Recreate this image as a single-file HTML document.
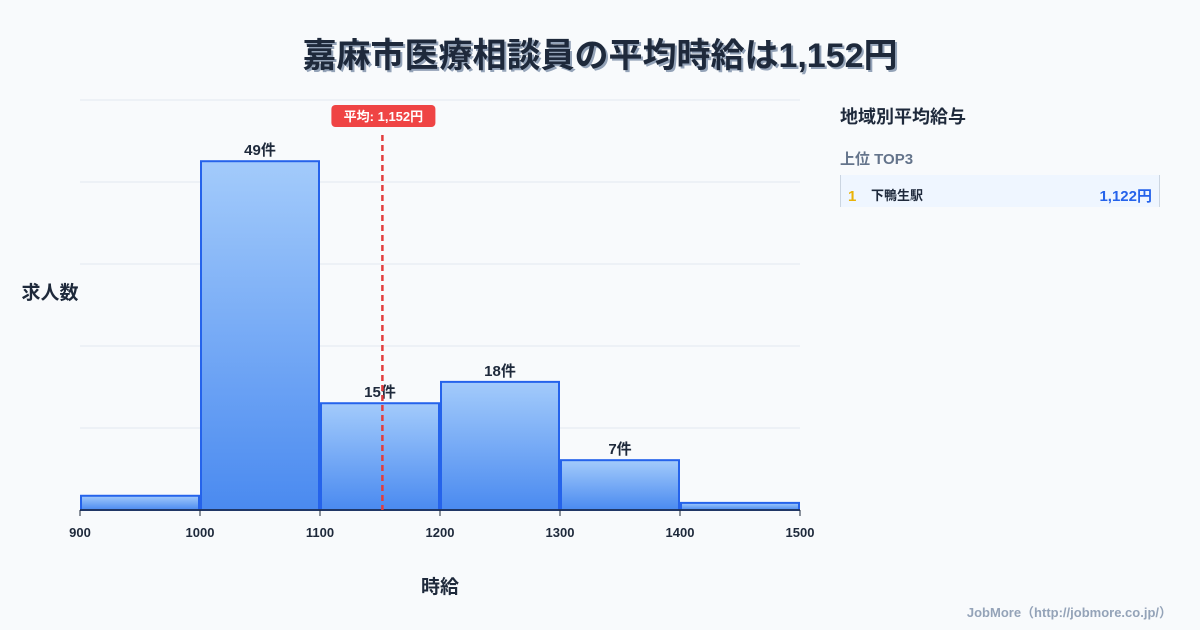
<!DOCTYPE html>
<html><head><meta charset="utf-8"><style>
body{margin:0;width:1200px;height:630px;background:#f8fafc;font-family:"Liberation Sans","Noto Sans CJK JP",sans-serif;overflow:hidden;position:relative}
.t{position:absolute;left:0;width:1200px;top:28px;text-align:center;font-size:34px;font-weight:bold;color:#1e293b;text-shadow:2px 2px 0 #94a3b8}
</style></head><body>
<div class="t">嘉麻市医療相談員の平均時給は1,152円</div>
<svg id="c" width="1200" height="630" style="position:absolute;left:0;top:0">
<defs><linearGradient id="g" x1="0" y1="0" x2="0" y2="1"><stop offset="0" stop-color="#a3cbfb"/><stop offset="1" stop-color="#4a8af0"/></linearGradient></defs>
<text x="50" y="299" font-size="19" font-weight="bold" fill="#1e293b" text-anchor="middle">求人数</text>
<text x="440" y="593" font-size="19" font-weight="bold" fill="#1e293b" text-anchor="middle">時給</text>
<text x="840" y="123" font-size="18" font-weight="bold" fill="#1e293b">地域別平均給与</text>
<text x="840" y="164" font-size="15" font-weight="bold" fill="#64748b">上位 TOP3</text>
<rect x="840" y="175" width="320" height="32" fill="#eff6ff"/>
<line x1="840.5" y1="175" x2="840.5" y2="207" stroke="#cbd5e1"/><line x1="1159.5" y1="175" x2="1159.5" y2="207" stroke="#cbd5e1"/>
<text x="848" y="201" font-size="15" font-weight="bold" fill="#eab308">1</text>
<text x="871" y="200" font-size="13" font-weight="bold" fill="#1e293b">下鴨生駅</text>
<text x="1152" y="201" font-size="15" font-weight="bold" fill="#2563eb" text-anchor="end">1,122円</text>
<text x="1172" y="617" font-size="13" font-weight="bold" fill="#94a3b8" text-anchor="end">JobMore（http://jobmore.co.jp/）</text>
</svg>
<script>
const binStarts=[900,1000,1100,1200,1300,1400];
const counts=[2,49,15,18,7,1];
const labelShown=[false,true,true,true,true,false];
const xTicks=[900,1000,1100,1200,1300,1400,1500];
const meanValue=1152;
const meanLabel="平均: 1,152円";
const L=80,R=800,T=100,B=510,xMin=900,xMax=1500,yMax=57.6;
const X=v=>L+(v-xMin)/(xMax-xMin)*(R-L);
const Y=v=>B-v/yMax*(B-T);
const s=document.getElementById('c'),NS="http://www.w3.org/2000/svg";
function mk(t,a,p){const e=document.createElementNS(NS,t);for(const k in a)e.setAttribute(k,a[k]);(p||s).appendChild(e);return e;}
for(let i=0;i<=5;i++){const g=mk('line',{x1:L,x2:R,y1:T+i*82,y2:T+i*82,stroke:'#e2e8f0'});

}
counts.forEach((c,i)=>{const x0=X(binStarts[i]),x1=X(binStarts[i]+100);
const r=mk('rect',{x:x0+1,y:Y(c),width:x1-x0-2,height:B-Y(c),fill:'url(#g)',stroke:'#2563eb','stroke-width':2});


if(labelShown[i]){const t=mk('text',{x:(x0+x1)/2,y:Y(c)-6,'text-anchor':'middle','font-size':15,'font-weight':'bold',fill:'#1e293b'});t.textContent=c+'件';

}});
mk('line',{x1:L,x2:R,y1:B,y2:B,stroke:'#1e293b','stroke-width':1.5});
xTicks.forEach(v=>{mk('line',{x1:X(v),x2:X(v),y1:B,y2:B+6,stroke:'#1e293b'});
const t=mk('text',{x:X(v),y:537,'text-anchor':'middle','font-size':13,'font-weight':'bold',fill:'#1e293b'});t.textContent=v;

});
const mx=X(meanValue);
const ml=mk('line',{x1:mx,x2:mx,y1:135,y2:B,stroke:'#e23d3d','stroke-width':2.5,'stroke-dasharray':'6,4'});


const mb=mk('rect',{x:mx-51,y:105,width:104,height:22,rx:4,fill:'#ef4444'});


const mt=mk('text',{x:mx+1,y:121,'text-anchor':'middle','font-size':13,'font-weight':'bold',fill:'#fff'});mt.textContent=meanLabel;


</script>
</body></html>
